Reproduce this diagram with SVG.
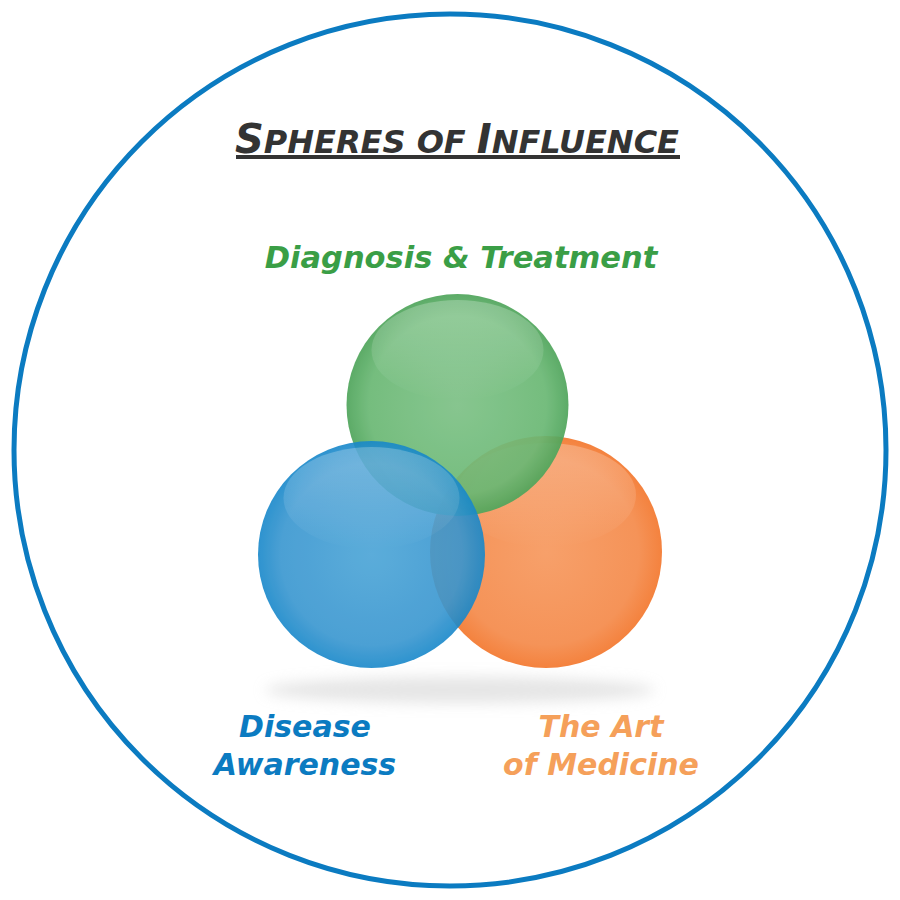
<svg xmlns="http://www.w3.org/2000/svg" width="900" height="900" viewBox="0 0 900 900">
<defs>
<style>
.t{font-family:"DejaVu Sans","Verdana",sans-serif;font-weight:bold;font-style:italic}
</style>
<radialGradient id="gG" cx="0.5" cy="0.5" r="0.5">
<stop offset="0" stop-color="#7dc186"/><stop offset="0.8" stop-color="#6ab874"/><stop offset="1" stop-color="#4fa55b"/>
</radialGradient>
<radialGradient id="gB" cx="0.5" cy="0.5" r="0.5">
<stop offset="0" stop-color="#4aa4d6"/><stop offset="0.8" stop-color="#3896d0"/><stop offset="1" stop-color="#1888ca"/>
</radialGradient>
<radialGradient id="gO" cx="0.5" cy="0.5" r="0.5">
<stop offset="0" stop-color="#f7a06a"/><stop offset="0.8" stop-color="#f59358"/><stop offset="1" stop-color="#f4823e"/>
</radialGradient>
<linearGradient id="hl" x1="0" y1="0" x2="0" y2="1">
<stop offset="0" stop-color="#fff" stop-opacity="0.25"/><stop offset="1" stop-color="#fff" stop-opacity="0"/>
</linearGradient>
<filter id="blur" x="-20%" y="-100%" width="140%" height="300%"><feGaussianBlur stdDeviation="7"/></filter>
</defs>
<rect width="900" height="900" fill="#fff"/>
<circle cx="450" cy="450" r="436" fill="none" stroke="#0b7bc1" stroke-width="5"/>
<g id="title">
<text class="t" x="457" y="153" text-anchor="middle" fill="#333" font-size="32"><tspan font-size="40">S</tspan>PHERES OF <tspan font-size="40">I</tspan>NFLUENCE</text>
<rect x="236" y="155" width="444" height="4" fill="#333"/>
</g>
<g id="shadow">
<ellipse cx="460" cy="690" rx="195" ry="13" fill="#ccc" opacity="0.5" filter="url(#blur)"/>
</g>
<g id="orange-sphere">
<circle cx="546" cy="552" r="116" fill="url(#gO)"/>
<ellipse cx="546" cy="495" rx="90" ry="52" fill="url(#hl)"/>
</g>
<g id="green-sphere" opacity="0.92">
<circle cx="457.5" cy="405" r="111" fill="url(#gG)"/>
<ellipse cx="457.5" cy="350" rx="86" ry="50" fill="url(#hl)"/>
</g>
<g id="blue-sphere" opacity="0.9">
<circle cx="371.5" cy="554.5" r="113.5" fill="url(#gB)"/>
<ellipse cx="371.5" cy="498" rx="88" ry="51" fill="url(#hl)"/>
</g>
<g id="connectors"/>
<g id="label-green"><text class="t" x="461" y="268" text-anchor="middle" fill="#3a9e46" font-size="30.5">Diagnosis &amp; Treatment</text></g>
<g id="label-blue"><text class="t" text-anchor="middle" fill="#0b7bc1" font-size="30"><tspan x="305" y="737">Disease</tspan><tspan x="305" y="775">Awareness</tspan></text></g>
<g id="label-orange"><text class="t" text-anchor="middle" fill="#f5a05a" font-size="30"><tspan x="601" y="737">The Art</tspan><tspan x="601" y="775">of Medicine</tspan></text></g>
</svg>
